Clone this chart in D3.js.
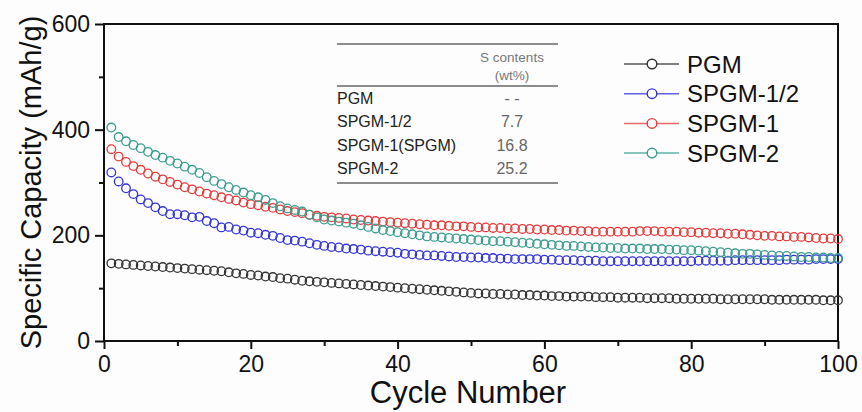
<!DOCTYPE html>
<html>
<head>
<meta charset="utf-8">
<script src="https://cdn.jsdelivr.net/npm/d3@7"></script>
<style>
  body { margin: 0; background: #fff; }
  svg { display: block; font-family: "Liberation Sans", Arial, sans-serif; }
</style>
</head>
<body>
<svg width="862" height="412"></svg>
<script>
const svg = d3.select("svg");

// Capacity per cycle (mAh/g), cycles 1..100
const pgm = [
  147, 146, 145, 144, 143, 142, 141, 140, 139, 138,
  137, 136, 135, 134, 133, 132, 130, 128, 127, 125,
  124, 122, 121, 119, 118, 116, 114, 113, 112, 111,
  110, 109, 108, 107, 106, 105, 104, 103, 102, 101,
  100, 99, 98, 97, 96, 95, 94, 93, 92, 91,
  90, 90, 89, 89, 88, 88, 87, 87, 86, 86,
  85, 85, 84, 84, 84, 84, 83, 83, 83, 82,
  82, 82, 82, 81, 81, 81, 81, 80, 80, 80,
  80, 80, 80, 79, 79, 79, 79, 79, 79, 79,
  78, 78, 78, 78, 78, 78, 78, 77, 77, 77
];
const spgmHalf = [
  319, 302, 289, 278, 268, 261, 253, 246, 240, 240,
  238, 234, 235, 227, 223, 215, 216, 211, 209, 205,
  204, 201, 199, 195, 191, 190, 188, 185, 182, 180,
  178, 177, 175, 174, 173, 171, 170, 169, 168, 167,
  165, 164, 163, 162, 162, 161, 160, 159, 159, 158,
  158, 157, 157, 156, 156, 155, 155, 155, 155, 154,
  154, 153, 153, 153, 152, 152, 152, 151, 151, 151,
  151, 151, 151, 151, 151, 151, 151, 151, 151, 151,
  152, 152, 152, 152, 152, 153, 153, 153, 153, 153,
  153, 153, 154, 154, 154, 154, 155, 155, 155, 155
];
const spgm1 = [
  363, 349, 339, 331, 324, 317, 311, 306, 301, 296,
  291, 287, 283, 279, 276, 272, 269, 266, 262, 259,
  257, 254, 252, 249, 246, 244, 242, 239, 237, 235,
  234, 233, 232, 230, 229, 228, 227, 226, 225, 224,
  223, 222, 221, 220, 219, 219, 218, 217, 217, 216,
  215, 215, 214, 214, 213, 213, 212, 212, 211, 211,
  210, 210, 209, 209, 208, 208, 207, 207, 207, 207,
  207, 207, 208, 208, 208, 207, 207, 207, 206, 206,
  205, 205, 204, 204, 203, 203, 202, 201, 200, 199,
  199, 198, 198, 197, 197, 196, 195, 194, 194, 193
];
const spgm2 = [
  404, 386, 378, 371, 365, 358, 352, 347, 341, 336,
  330, 324, 318, 310, 303, 297, 291, 286, 281, 276,
  272, 267, 261, 255, 251, 248, 245, 239, 234, 230,
  228, 226, 224, 222, 219, 216, 213, 210, 208, 206,
  204, 202, 200, 198, 197, 196, 195, 194, 193, 192,
  191, 190, 189, 189, 188, 187, 186, 185, 184, 183,
  182, 181, 180, 180, 179, 178, 177, 177, 176, 176,
  175, 175, 175, 174, 174, 174, 173, 173, 172, 172,
  171, 170, 169, 168, 167, 166, 165, 165, 164, 163,
  162, 161, 161, 160, 159, 159, 158, 158, 157, 157
];

const seriesNames = ["PGM", "SPGM-1/2", "SPGM-1", "SPGM-2"];
const seriesValues = [pgm, spgmHalf, spgm1, spgm2];
const seriesColors = ["#333333", "#3434d8", "#e63a3a", "#3b9c90"];
const legendLineColors = ["#555555", "#6262e0", "#ec6a6a", "#5fb0a6"];

// inset table
const tableRows = ["PGM", "SPGM-1/2", "SPGM-1(SPGM)", "SPGM-2"];
const tableValues = ["- -", "7.7", "16.8", "25.2"];

const xTicks = [0, 20, 40, 60, 80, 100];
const yTicks = [0, 200, 400, 600];

const x = d3.scaleLinear().domain([0, 100]).range([104, 838]);
const y = d3.scaleLinear().domain([0, 600]).range([341, 24]);

svg.append("rect").attr("width", 862).attr("height", 412).attr("fill", "#fdfdfd");

// Axes
const xAxis = svg.append("g")
  .attr("transform", `translate(0,${y(0)})`)
  .call(d3.axisBottom(x).tickValues(xTicks).tickSize(8).tickSizeOuter(0).tickPadding(7).tickFormat(d3.format("d")));
svg.append("g")
  .attr("transform", `translate(0,${y(0)})`)
  .call(d3.axisBottom(x).tickValues([10, 30, 50, 70, 90]).tickSize(5).tickSizeOuter(0).tickFormat(""));
const yAxis = svg.append("g")
  .attr("transform", `translate(${x(0)},0)`)
  .call(d3.axisLeft(y).tickValues(yTicks).tickSize(9).tickSizeOuter(0).tickPadding(5));
svg.append("g")
  .attr("transform", `translate(${x(0)},0)`)
  .call(d3.axisLeft(y).tickValues([100, 300, 500]).tickSize(5).tickSizeOuter(0).tickFormat(""));

svg.selectAll(".domain").remove();
svg.selectAll(".tick line").attr("stroke", "#111").attr("stroke-width", 2);
xAxis.selectAll("text").attr("font-size", 23).attr("fill", "#111")
  .attr("font-family", "'Liberation Sans', Arial, sans-serif");
yAxis.selectAll("text").attr("font-size", 23).attr("fill", "#111")
  .attr("font-family", "'Liberation Sans', Arial, sans-serif");

// frame
svg.append("rect")
  .attr("x", x(0)).attr("y", y(600))
  .attr("width", x(100) - x(0)).attr("height", y(0) - y(600))
  .attr("fill", "none").attr("stroke", "#111").attr("stroke-width", 2);

// axis titles
svg.append("text")
  .attr("x", (x(0) + x(100)) / 2 - 3).attr("y", 403)
  .attr("text-anchor", "middle").attr("font-size", 31).attr("fill", "#111")
  .text("Cycle Number");
svg.append("text")
  .attr("transform", `translate(41,${(y(0) + y(600)) / 2}) rotate(-90)`)
  .attr("text-anchor", "middle").attr("font-size", 29).attr("fill", "#111")
  .text("Specific Capacity (mAh/g)");

// data points
seriesValues.forEach((vals, i) => {
  svg.append("g")
    .selectAll("circle")
    .data(vals)
    .join("circle")
    .attr("cx", (d, j) => x(j + 1))
    .attr("cy", d => y(d))
    .attr("r", 4.3)
    .attr("fill", "none")
    .attr("stroke", seriesColors[i])
    .attr("stroke-width", 1.3);
});

// inset table
const table = svg.append("g");
[44, 86, 183].forEach(ly => {
  table.append("line")
    .attr("x1", 337).attr("x2", 558).attr("y1", ly).attr("y2", ly)
    .attr("stroke", "#666").attr("stroke-width", 1.3);
});
table.append("text").attr("x", 512).attr("y", 62).attr("text-anchor", "middle")
  .attr("font-size", 13.5).attr("fill", "#777").text("S contents");
table.append("text").attr("x", 512).attr("y", 80).attr("text-anchor", "middle")
  .attr("font-size", 13.5).attr("fill", "#777").text("(wt%)");
const rowY = [104, 127, 151, 174];
tableRows.forEach((r, i) => {
  table.append("text").attr("x", 337).attr("y", rowY[i])
    .attr("font-size", 16).attr("fill", "#222").text(r);
  table.append("text").attr("x", 512).attr("y", rowY[i]).attr("text-anchor", "middle")
    .attr("font-size", 16).attr("fill", "#666").text(tableValues[i]);
});

// legend
const legend = svg.append("g");
seriesNames.forEach((name, i) => {
  const ly = 64 + i * 29.7;
  legend.append("line")
    .attr("x1", 624).attr("x2", 679).attr("y1", ly).attr("y2", ly)
    .attr("stroke", legendLineColors[i]).attr("stroke-width", 1.5);
  legend.append("circle")
    .attr("cx", 652).attr("cy", ly).attr("r", 4.8)
    .attr("fill", "#fdfdfd").attr("stroke", seriesColors[i]).attr("stroke-width", 1.4);
  legend.append("text")
    .attr("x", 687).attr("y", ly + 8.5)
    .attr("font-size", 24).attr("fill", "#111").text(name);
});
</script>
</body>
</html>
